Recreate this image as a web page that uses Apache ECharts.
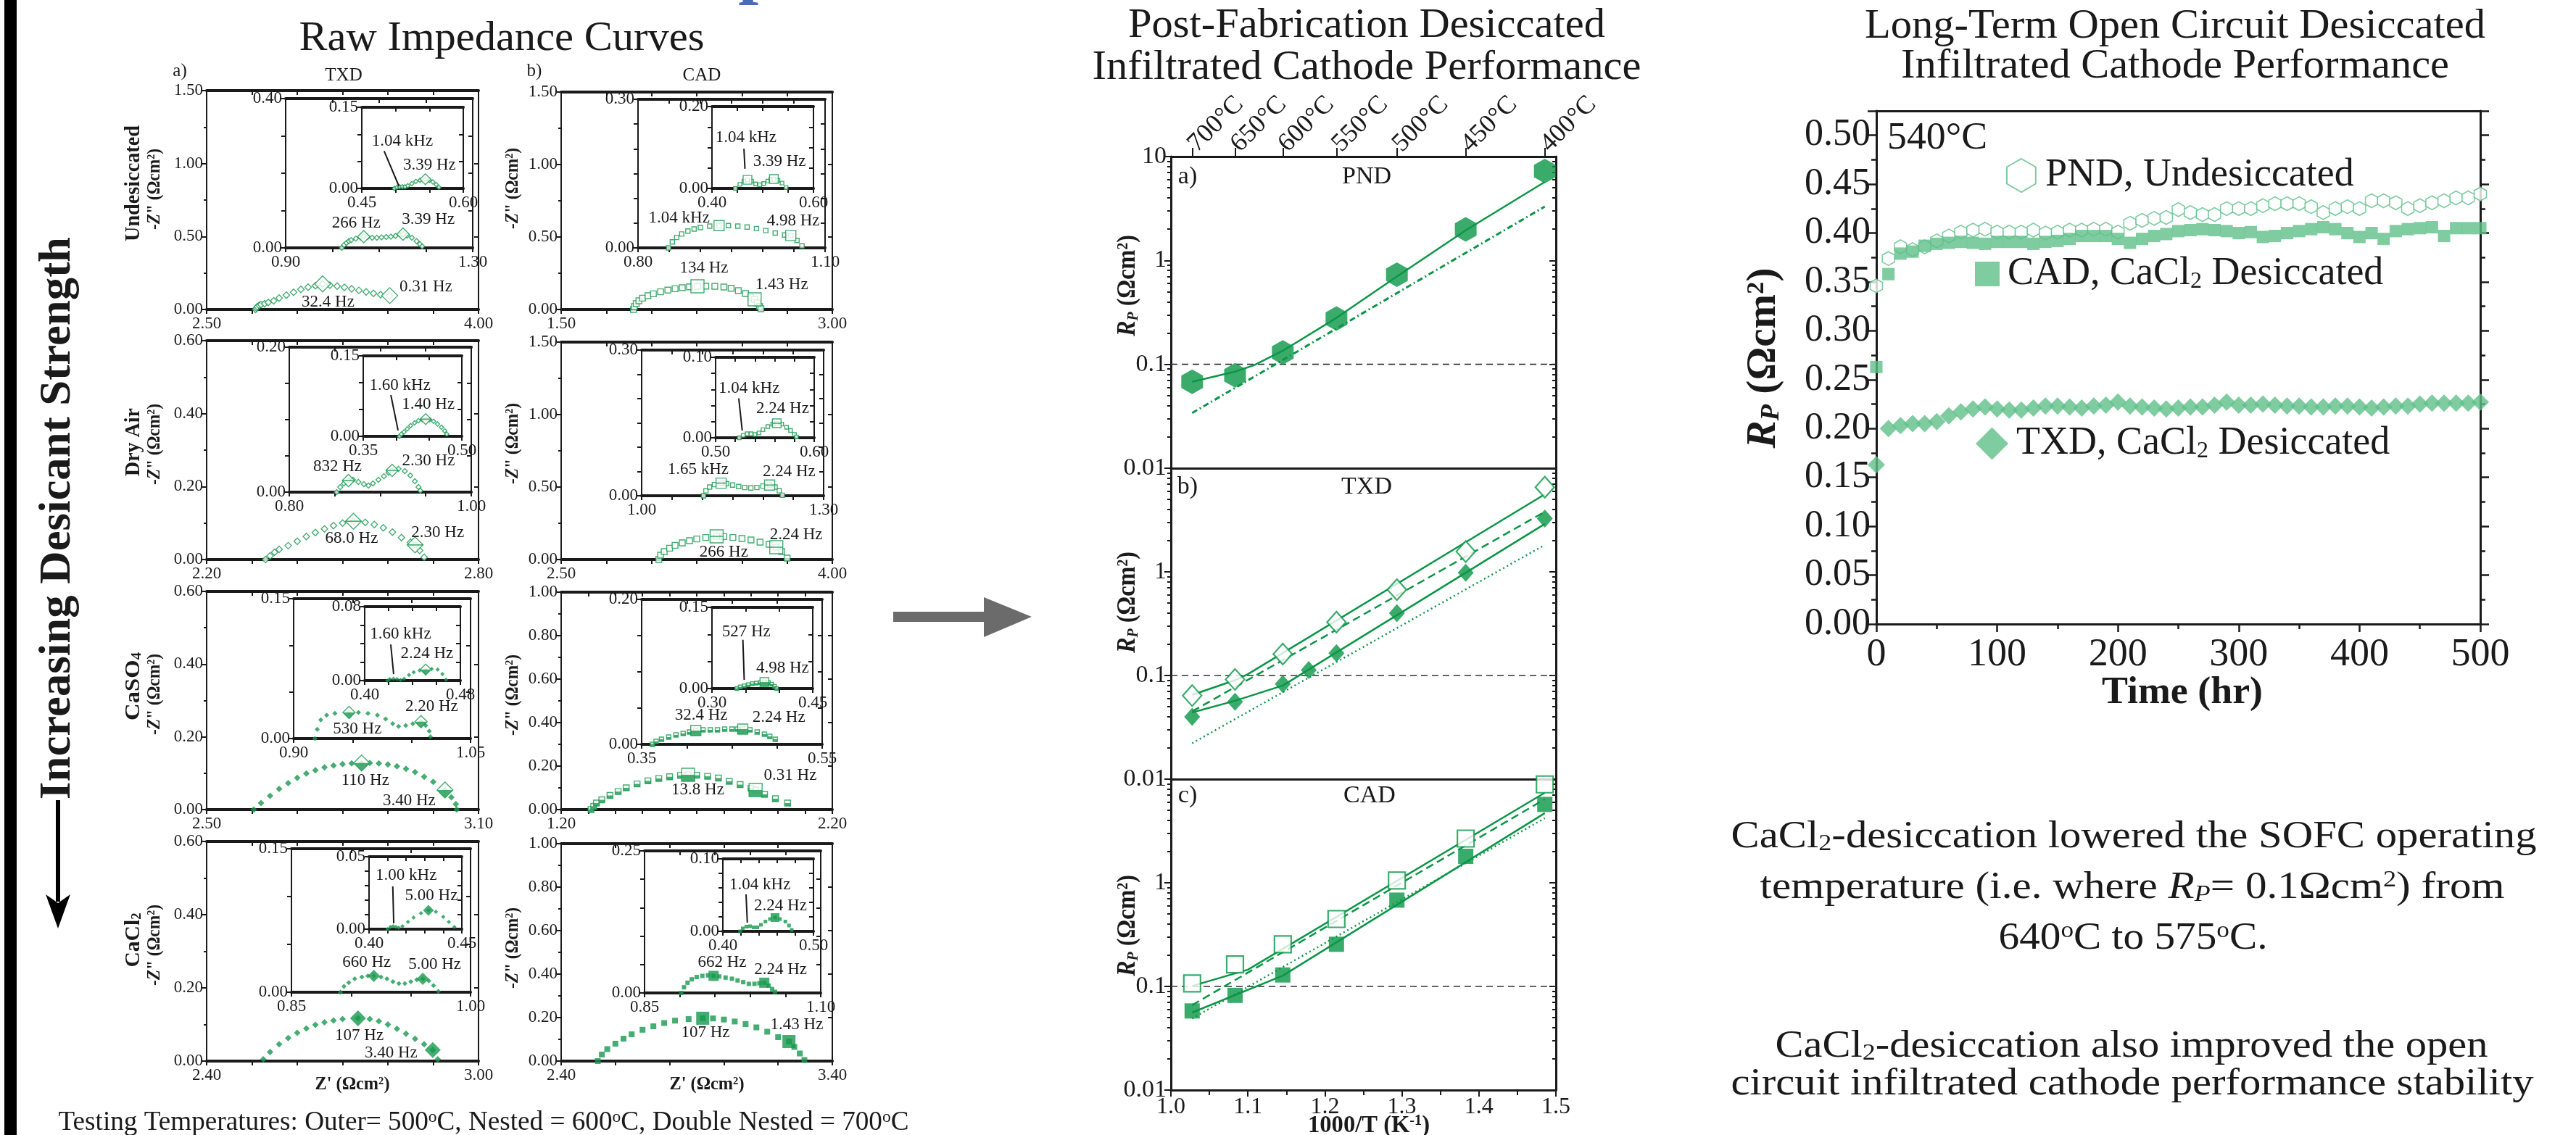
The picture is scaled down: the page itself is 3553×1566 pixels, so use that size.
<!DOCTYPE html>
<html>
<head>
<meta charset="utf-8">
<script src="https://cdn.jsdelivr.net/npm/echarts@6/dist/echarts.min.js"></script>
<style>html,body{margin:0;padding:0;background:#fff;}#chart{width:3553px;height:1566px;}</style>
</head>
<body>
<div id="chart"></div>
<script>
var FONT = "'Liberation Serif', 'Times New Roman', serif";
var INK = '#1a1a1a';
var G = '#17994d';   // impedance green
var GM = '#0a9646';  // arrhenius green
var GL = '#5ebf88';  // long-term green

// ================= Raw impedance curves: [Z', -Z''] (ohm cm2) =================
// TXD, undesiccated
var tuO = [[2.77,0.0],[2.775,0.01],[2.78,0.02],[2.79,0.028],[2.80,0.034],[2.82,0.04],[2.84,0.048],[2.87,0.06],[2.90,0.078],[2.94,0.098],[2.98,0.118],[3.02,0.138],[3.06,0.153],[3.10,0.163],[3.14,0.175],[3.18,0.166],[3.22,0.16],[3.26,0.151],[3.30,0.141],[3.34,0.131],[3.38,0.121],[3.42,0.111],[3.46,0.102],[3.51,0.095]];
var tuOMk = [[3.14,0.175],[3.51,0.095]];
var tuOLb = [[3.17,0.05,'32.4 Hz'],[3.71,0.155,'0.31 Hz']];
var tuN = [[1.02,0.0],[1.025,0.008],[1.03,0.013],[1.035,0.018],[1.04,0.021],[1.05,0.025],[1.06,0.028],[1.067,0.03],[1.075,0.029],[1.085,0.027],[1.095,0.027],[1.105,0.028],[1.115,0.029],[1.125,0.03],[1.135,0.032],[1.145,0.035],[1.151,0.037],[1.16,0.033],[1.17,0.027],[1.18,0.018],[1.187,0.01],[1.192,0.004]];
var tuNMk = [[1.067,0.03],[1.151,0.037]];
var tuNLb = [[1.051,0.066,'266 Hz'],[1.205,0.076,'3.39 Hz']];
var tuD = [[0.498,0.0],[0.502,0.002],[0.506,0.003],[0.51,0.003],[0.514,0.003],[0.518,0.005],[0.524,0.009],[0.53,0.013],[0.536,0.015],[0.544,0.017],[0.55,0.015],[0.555,0.012],[0.56,0.007],[0.564,0.002]];
var tuDMk = [[0.544,0.017]];
var tuDLb = [[0.51,0.087,'1.04 kHz'],[0.55,0.043,'3.39 Hz']];
var tuDLd = [[0.483,0.069],[0.505,0.004]];

// CAD, undesiccated
var cuO = [[1.90,0.0],[1.905,0.02],[1.915,0.04],[1.93,0.06],[1.95,0.078],[1.98,0.095],[2.01,0.108],[2.05,0.122],[2.09,0.134],[2.13,0.143],[2.17,0.15],[2.21,0.156],[2.254,0.16],[2.30,0.161],[2.35,0.16],[2.40,0.155],[2.44,0.146],[2.48,0.13],[2.52,0.11],[2.55,0.085],[2.57,0.07],[2.585,0.045],[2.597,0.02],[2.605,0.005]];
var cuOMk = [[2.254,0.16],[2.57,0.07]];
var cuOLb = [[2.29,0.285,'134 Hz'],[2.72,0.17,'1.43 Hz']];
var cuN = [[0.849,0.0],[0.855,0.012],[0.862,0.021],[0.87,0.028],[0.88,0.034],[0.89,0.038],[0.90,0.041],[0.915,0.044],[0.93,0.045],[0.945,0.045],[0.96,0.044],[0.975,0.042],[0.99,0.039],[1.005,0.035],[1.02,0.03],[1.035,0.026],[1.045,0.025],[1.055,0.015],[1.063,0.004]];
var cuNMk = [[0.93,0.045],[1.045,0.025]];
var cuNLb = [[0.866,0.06,'1.04 kHz'],[1.049,0.054,'4.98 Hz']];
var cuD = [[0.446,0.0],[0.455,0.01],[0.463,0.018],[0.47,0.021],[0.478,0.018],[0.486,0.011],[0.494,0.009],[0.502,0.012],[0.51,0.018],[0.516,0.022],[0.522,0.023],[0.53,0.02],[0.538,0.013],[0.546,0.002]];
var cuDMk = [[0.47,0.021],[0.522,0.023]];
var cuDLb = [[0.467,0.124,'1.04 kHz'],[0.533,0.065,'3.39 Hz']];
var cuDLd = [[0.463,0.097],[0.465,0.048]];

// TXD, dry air
var tdO = [[2.33,0.0],[2.34,0.01],[2.35,0.02],[2.36,0.028],[2.38,0.038],[2.40,0.05],[2.42,0.063],[2.44,0.074],[2.46,0.084],[2.48,0.093],[2.50,0.1],[2.524,0.105],[2.55,0.102],[2.57,0.096],[2.59,0.087],[2.61,0.075],[2.63,0.06],[2.65,0.047],[2.66,0.04],[2.67,0.025],[2.68,0.006]];
var tdOMk = [[2.524,0.105],[2.66,0.04]];
var tdOLb = [[2.52,0.058,'68.0 Hz'],[2.71,0.074,'2.30 Hz']];
var tdN = [[0.852,0.0],[0.856,0.007],[0.86,0.012],[0.865,0.016],[0.87,0.017],[0.876,0.014],[0.882,0.011],[0.887,0.009],[0.892,0.012],[0.898,0.017],[0.904,0.022],[0.909,0.027],[0.913,0.03],[0.92,0.032],[0.927,0.029],[0.933,0.023],[0.938,0.015],[0.942,0.007],[0.944,0.002]];
var tdNMk = [[0.865,0.016],[0.913,0.03]];
var tdNLb = [[0.853,0.035,'832 Hz'],[0.953,0.043,'2.30 Hz']];
var tdD = [[0.405,0.0],[0.408,0.004],[0.412,0.008],[0.417,0.014],[0.422,0.02],[0.428,0.025],[0.434,0.029],[0.44,0.031],[0.445,0.032],[0.451,0.031],[0.457,0.028],[0.463,0.023],[0.469,0.017],[0.474,0.01],[0.477,0.004]];
var tdDMk = [[0.445,0.032]];
var tdDLb = [[0.406,0.095,'1.60 kHz'],[0.449,0.06,'1.40 Hz']];
var tdDLd = [[0.392,0.077],[0.403,0.011]];

// CAD, dry air
var cdO = [[3.04,0.0],[3.05,0.03],[3.07,0.055],[3.10,0.078],[3.13,0.098],[3.17,0.115],[3.21,0.13],[3.25,0.142],[3.30,0.152],[3.36,0.16],[3.40,0.158],[3.45,0.152],[3.50,0.145],[3.55,0.135],[3.60,0.12],[3.65,0.105],[3.69,0.085],[3.72,0.055],[3.75,0.01]];
var cdOMk = [[3.36,0.16],[3.69,0.085]];
var cdOLb = [[3.40,0.05,'266 Hz'],[3.80,0.17,'2.24 Hz']];
var cdN = [[1.102,0.0],[1.106,0.01],[1.112,0.018],[1.12,0.023],[1.131,0.026],[1.14,0.025],[1.15,0.022],[1.16,0.019],[1.17,0.017],[1.18,0.016],[1.19,0.017],[1.20,0.02],[1.211,0.022],[1.22,0.018],[1.227,0.01],[1.232,0.001]];
var cdNMk = [[1.131,0.026],[1.211,0.022]];
var cdNLb = [[1.093,0.054,'1.65 kHz'],[1.243,0.049,'2.24 Hz']];
var cdD = [[0.524,0.0],[0.528,0.003],[0.532,0.005],[0.536,0.005],[0.54,0.004],[0.544,0.006],[0.548,0.01],[0.553,0.014],[0.558,0.017],[0.562,0.018],[0.567,0.017],[0.572,0.013],[0.576,0.009],[0.58,0.004],[0.582,0.001]];
var cdDMk = [[0.562,0.018]];
var cdDLb = [[0.534,0.061,'1.04 kHz'],[0.568,0.036,'2.24 Hz']];
var cdDLd = [[0.5235,0.049],[0.527,0.009]];

// TXD, CaSO4
var tsO = [[2.604,0.0],[2.62,0.018],[2.64,0.038],[2.66,0.057],[2.68,0.073],[2.70,0.087],[2.72,0.099],[2.74,0.108],[2.76,0.116],[2.78,0.121],[2.80,0.125],[2.82,0.127],[2.842,0.128],[2.86,0.128],[2.88,0.127],[2.90,0.124],[2.92,0.119],[2.94,0.112],[2.96,0.103],[2.98,0.09],[3.00,0.076],[3.026,0.054],[3.04,0.034],[3.05,0.015],[3.052,0.0]];
var tsOMk = [[2.842,0.128],[3.026,0.054]];
var tsOLb = [[2.85,0.08,'110 Hz'],[2.947,0.024,'3.40 Hz']];
var tsN = [[0.918,0.0],[0.92,0.01],[0.923,0.02],[0.928,0.025],[0.935,0.027],[0.947,0.028],[0.955,0.028],[0.963,0.027],[0.971,0.025],[0.978,0.021],[0.984,0.016],[0.989,0.013],[0.995,0.014],[1.001,0.016],[1.008,0.018],[1.012,0.014],[1.015,0.008],[1.016,0.002]];
var tsNMk = [[0.947,0.028],[1.008,0.018]];
var tsNLb = [[0.954,0.01,'530 Hz'],[1.017,0.034,'2.20 Hz']];
var tsD = [[0.419,0.0],[0.421,0.0015],[0.424,0.002],[0.427,0.0015],[0.43,0.0005],[0.433,0.002],[0.437,0.006],[0.441,0.009],[0.446,0.011],[0.451,0.012],[0.456,0.0125],[0.461,0.012],[0.465,0.007],[0.468,0.001]];
var tsDMk = [[0.451,0.012]];
var tsDLb = [[0.43,0.05,'1.60 kHz'],[0.452,0.029,'2.24 Hz']];
var tsDLd = [[0.4218,0.039],[0.4242,0.007]];

// CAD, CaSO4
var csO = [[1.31,0.0],[1.32,0.015],[1.33,0.03],[1.35,0.045],[1.38,0.065],[1.41,0.083],[1.44,0.1],[1.48,0.118],[1.52,0.132],[1.56,0.143],[1.60,0.151],[1.64,0.157],[1.668,0.16],[1.70,0.158],[1.74,0.153],[1.78,0.145],[1.82,0.13],[1.86,0.115],[1.90,0.098],[1.917,0.09],[1.95,0.07],[1.99,0.05],[2.035,0.03]];
var csOMk = [[1.668,0.16],[1.917,0.09]];
var csOLb = [[1.704,0.09,'13.8 Hz'],[2.045,0.157,'0.31 Hz']];
var csN = [[0.362,0.0],[0.366,0.004],[0.372,0.007],[0.38,0.01],[0.388,0.013],[0.396,0.015],[0.403,0.017],[0.41,0.019],[0.418,0.02],[0.426,0.02],[0.434,0.02],[0.442,0.021],[0.45,0.021],[0.456,0.021],[0.462,0.021],[0.47,0.02],[0.478,0.017],[0.486,0.014],[0.492,0.011],[0.498,0.007]];
var csNMk = [[0.41,0.019],[0.462,0.021]];
var csNLb = [[0.416,0.04,'32.4 Hz'],[0.502,0.037,'2.24 Hz']];
var csD = [[0.337,0.0],[0.342,0.003],[0.348,0.005],[0.354,0.007],[0.36,0.009],[0.366,0.01],[0.372,0.011],[0.378,0.012],[0.384,0.011],[0.389,0.008],[0.393,0.004],[0.396,0.0]];
var csDMk = [[0.378,0.012]];
var csDLb = [[0.351,0.104,'527 Hz'],[0.405,0.038,'4.98 Hz']];
var csDLd = [[0.346,0.09],[0.348,0.016]];

// TXD, CaCl2
var tcO = [[2.525,0.005],[2.54,0.025],[2.56,0.046],[2.58,0.063],[2.60,0.077],[2.62,0.089],[2.64,0.099],[2.66,0.106],[2.68,0.111],[2.70,0.115],[2.734,0.117],[2.76,0.115],[2.78,0.109],[2.80,0.1],[2.82,0.088],[2.84,0.075],[2.86,0.061],[2.88,0.046],[2.899,0.03],[2.91,0.005]];
var tcOMk = [[2.734,0.117],[2.899,0.03]];
var tcOLb = [[2.737,0.069,'107 Hz'],[2.807,0.022,'3.40 Hz']];
var tcN = [[0.891,0.0],[0.894,0.006],[0.898,0.01],[0.903,0.014],[0.909,0.016],[0.914,0.017],[0.919,0.017],[0.925,0.016],[0.93,0.014],[0.935,0.011],[0.94,0.009],[0.945,0.009],[0.95,0.011],[0.955,0.013],[0.96,0.014],[0.965,0.012],[0.969,0.007],[0.973,0.001]];
var tcNMk = [[0.919,0.017],[0.96,0.014]];
var tcNLb = [[0.913,0.031,'660 Hz'],[0.97,0.029,'5.00 Hz']];
var tcD = [[0.41,0.0],[0.4115,0.0015],[0.413,0.002],[0.4145,0.0015],[0.416,0.001],[0.418,0.002],[0.421,0.005],[0.424,0.008],[0.428,0.011],[0.432,0.013],[0.436,0.012],[0.44,0.0085],[0.443,0.005],[0.446,0.0015]];
var tcDMk = [[0.432,0.013]];
var tcDLb = [[0.42,0.037,'1.00 kHz'],[0.4336,0.0228,'5.00 Hz']];
var tcDLd = [[0.4128,0.0295],[0.4133,0.004]];

// CAD, CaCl2
var ccO = [[2.535,0.0],[2.55,0.03],[2.57,0.055],[2.60,0.08],[2.63,0.103],[2.66,0.123],[2.70,0.144],[2.74,0.16],[2.78,0.175],[2.82,0.186],[2.87,0.193],[2.922,0.197],[2.96,0.196],[3.00,0.191],[3.04,0.182],[3.08,0.17],[3.12,0.155],[3.16,0.135],[3.20,0.11],[3.24,0.09],[3.26,0.065],[3.28,0.035],[3.297,0.005]];
var ccOMk = [[2.922,0.197],[3.24,0.09]];
var ccOLb = [[2.932,0.131,'107 Hz'],[3.269,0.168,'1.43 Hz']];
var ccN = [[0.902,0.0],[0.906,0.01],[0.911,0.018],[0.917,0.024],[0.924,0.028],[0.932,0.03],[0.94,0.031],[0.948,0.03],[0.956,0.029],[0.965,0.027],[0.974,0.025],[0.982,0.022],[0.99,0.019],[0.998,0.016],[1.006,0.016],[1.013,0.017],[1.02,0.018],[1.026,0.013],[1.031,0.007],[1.035,0.002]];
var ccNMk = [[0.948,0.03],[1.02,0.018]];
var ccNLb = [[0.96,0.054,'662 Hz'],[1.043,0.041,'2.24 Hz']];
var ccD = [[0.419,0.0],[0.422,0.004],[0.426,0.0065],[0.43,0.007],[0.434,0.0055],[0.438,0.0055],[0.442,0.009],[0.447,0.0135],[0.452,0.017],[0.4576,0.019],[0.463,0.017],[0.469,0.0135],[0.473,0.008],[0.476,0.002]];
var ccDMk = [[0.4576,0.019]];
var ccDLb = [[0.441,0.064,'1.04 kHz'],[0.4636,0.0354,'2.24 Hz']];
var ccDLd = [[0.4256,0.051],[0.427,0.012]];

// axis ranges: [xmin, xmax, xstep, ymin, ymax, ystep]
var rTuO = [2.5,4.0,0.25,0,1.5,0.5], rTuN = [0.9,1.3,0.1,0,0.4,0.1], rTuD = [0.45,0.6,0.05,0,0.15,0.05];
var rCuO = [1.5,3.0,0.25,0,1.5,0.5], rCuN = [0.8,1.1,0.05,0,0.3,0.05], rCuD = [0.4,0.6,0.05,0,0.2,0.05];
var rTdO = [2.2,2.8,0.1,0,0.6,0.2], rTdN = [0.8,1.0,0.05,0,0.2,0.05], rTdD = [0.35,0.5,0.05,0,0.15,0.05];
var rCdO = [2.5,4.0,0.25,0,1.5,0.5], rCdN = [1.0,1.3,0.05,0,0.3,0.05], rCdD = [0.5,0.6,0.02,0,0.1,0.02];
var rTsO = [2.5,3.1,0.1,0,0.6,0.2], rTsN = [0.9,1.05,0.05,0,0.15,0.05], rTsD = [0.4,0.48,0.02,0,0.08,0.02];
var rCsO = [1.2,2.2,0.1,0,1.0,0.2], rCsN = [0.35,0.55,0.05,0,0.2,0.05], rCsD = [0.3,0.45,0.05,0,0.15,0.05];
var rTcO = [2.4,3.0,0.1,0,0.6,0.2], rTcN = [0.85,1.0,0.05,0,0.15,0.05], rTcD = [0.4,0.45,0.01,0,0.05,0.01];
var rCcO = [2.4,3.4,0.2,0,1.0,0.2], rCcN = [0.85,1.1,0.05,0,0.25,0.05], rCcD = [0.4,0.5,0.02,0,0.1,0.02];

// ================= Arrhenius plots =================
var invT = [1.0276, 1.0833, 1.1453, 1.2150, 1.2935, 1.3829, 1.4856];
var tempLabels = ['700°C','650°C','600°C','550°C','500°C','450°C','400°C'];
var pndRp = [0.068, 0.0785, 0.13, 0.276, 0.728, 1.99, 7.24];
var pndFit = [[1.0276,0.068],[1.0833,0.085],[1.108,0.098],[1.1453,0.135],[1.215,0.28],[1.2935,0.70],[1.3829,1.95],[1.4856,5.7]];
var pndTrend = [[1.0276,0.034],[1.4856,3.3]];
var txdOpenRp = [0.064, 0.0916, 0.161, 0.327, 0.673, 1.57, 6.56];
var txdFillT = [1.0276, 1.0833, 1.1453, 1.179, 1.215, 1.2935, 1.3829, 1.4856];
var txdFillRp = [0.040, 0.0557, 0.0826, 0.113, 0.164, 0.40, 0.98, 3.27];
var txdOpenFit = [[1.0276,0.065],[1.0833,0.09],[1.10,0.103],[1.4856,5.6]];
var txdFillFit = [[1.0276,0.044],[1.0833,0.057],[1.1453,0.08],[1.4856,2.9]];
var txdDash = [[1.0276,0.045],[1.4856,3.8]];
var txdDot = [[1.0276,0.0222],[1.4856,1.82]];
var cadOpenRp = [0.107, 0.163, 0.255, 0.447, 1.05, 2.67, 8.9];
var cadFillRp = [0.058, 0.082, 0.129, 0.255, 0.68, 1.80, 5.7];
var cadOpenFit = [[1.0276,0.101],[1.10,0.145],[1.4856,7.4]];
var cadFillFit = [[1.0276,0.056],[1.1453,0.127],[1.4856,4.7]];
var cadDash = [[1.0276,0.066],[1.4856,6.4]];
var cadDot = [[1.0276,0.049],[1.4856,4.2]];
var refRp = [[1.0,0.1],[1.5,0.1]];
var logMinor = [0.02,0.03,0.04,0.05,0.06,0.07,0.08,0.09,0.2,0.3,0.4,0.5,0.6,0.7,0.8,0.9,2,3,4,5,6,7,8,9];

// ================= Long-term open circuit (540 C) =================
var timeHr = [0,10,20,30,40,50,60,70,80,90,100,110,120,130,140,150,160,170,180,190,200,210,220,230,240,250,260,270,280,290,300,310,320,330,340,350,360,370,380,390,400,410,420,430,440,450,460,470,480,490,500];
var pndLong = [0.346,0.374,0.386,0.383,0.386,0.392,0.397,0.401,0.403,0.404,0.401,0.401,0.401,0.403,0.400,0.401,0.403,0.403,0.404,0.404,0.401,0.410,0.413,0.415,0.416,0.424,0.421,0.419,0.419,0.425,0.425,0.425,0.428,0.430,0.430,0.430,0.427,0.421,0.425,0.427,0.425,0.433,0.433,0.431,0.425,0.428,0.431,0.433,0.436,0.436,0.440];
var cadLong = [0.263,0.358,0.379,0.381,0.387,0.389,0.390,0.391,0.390,0.389,0.391,0.391,0.391,0.389,0.391,0.392,0.394,0.397,0.397,0.397,0.394,0.390,0.394,0.397,0.399,0.402,0.403,0.404,0.403,0.402,0.400,0.401,0.396,0.397,0.400,0.402,0.404,0.406,0.404,0.400,0.396,0.400,0.394,0.402,0.404,0.405,0.406,0.397,0.405,0.405,0.405];
var txdLong = [0.163,0.200,0.203,0.205,0.205,0.207,0.213,0.217,0.220,0.222,0.220,0.219,0.219,0.221,0.223,0.223,0.222,0.221,0.223,0.224,0.227,0.223,0.222,0.221,0.220,0.221,0.222,0.222,0.224,0.227,0.224,0.224,0.225,0.224,0.223,0.223,0.222,0.222,0.223,0.223,0.222,0.221,0.222,0.223,0.223,0.225,0.226,0.226,0.226,0.226,0.227];

// ================= builders =================
var grids = [], xAxes = [], yAxes = [], series = [], graphics = [];
var HEX = 'path://M5,0L9.33,2.5L9.33,7.5L5,10L0.67,7.5L0.67,2.5Z';
function f2(v) { return Number(v).toFixed(2); }

var mctx = document.createElement('canvas').getContext('2d');
function tw(s, st) {
  mctx.font = (st.fontStyle || 'normal') + ' ' + (st.fontWeight || 'normal') + ' ' + st.fontSize + 'px ' + FONT;
  return mctx.measureText(s).width;
}
function RS(size, o) {
  o = o || {};
  var r = {fontSize: size, fontFamily: FONT, fontWeight: o.b ? 'bold' : 'normal', fontStyle: o.i ? 'italic' : 'normal', fill: o.fill || INK};
  if (o.va) r.verticalAlign = o.va;
  return r;
}
// tokens: [[text, styleName], ...]
function rtext(tokens, rich, x, y, w, rot) {
  var str = '', width = 0, maxS = 10;
  tokens.forEach(function (t) {
    var st = rich[t[1]];
    str += '{' + t[1] + '|' + t[0] + '}';
    width += tw(t[0], st);
    maxS = Math.max(maxS, st.fontSize);
  });
  var sc = w ? w / width : 1;
  graphics.push({type: 'text', x: x, y: y, rotation: rot || 0, scaleX: sc, silent: true, z: 20,
    style: {text: str, rich: rich, fontSize: maxS, fontFamily: FONT, fill: INK,
      align: 'center', verticalAlign: 'middle', textAlign: 'center', textVerticalAlign: 'middle'}});
}
function ptext(s, x, y, size, w, o) {
  o = o || {};
  rtext([[s, 'n']], {n: RS(size, o)}, x, y, w, o.rot);
}

function gridAt(r) {
  return {left: r[0], top: r[1], width: r[2] - r[0], height: r[3] - r[1], containLabel: false, outerBoundsMode: 'none', show: false};
}

// ---------- impedance boxes ----------
function impBox(rect, rg, lv) {
  var gi = grids.length, xi = xAxes.length, yi = yAxes.length;
  grids.push(gridAt(rect));
  var thin = {color: INK, width: 2}, thick = {color: INK, width: 4};
  var lab = {fontFamily: FONT, fontSize: 23, color: INK, formatter: f2};
  xAxes.push({gridIndex: gi, type: 'value', position: 'bottom', min: rg[0], max: rg[1], interval: rg[2],
    axisLine: {onZero: false, lineStyle: thick}, axisTick: {length: 6, lineStyle: thin},
    axisLabel: Object.assign({customValues: [rg[0], rg[1]], margin: 8}, lab), splitLine: {show: false}});
  xAxes.push({gridIndex: gi, type: 'value', position: 'top', min: rg[0], max: rg[1], interval: rg[2],
    axisLine: {onZero: false, lineStyle: thick}, axisTick: {inside: true, length: 6, lineStyle: thin},
    axisLabel: {show: false}, splitLine: {show: false}});
  var yl = Object.assign({margin: 5}, lab);
  if (lv > 0) yl.customValues = [rg[3], rg[4]];
  yAxes.push({gridIndex: gi, type: 'value', position: 'left', min: rg[3], max: rg[4], interval: rg[5],
    axisLine: {onZero: false, lineStyle: thin}, axisTick: {length: 6, lineStyle: thin},
    minorTick: {show: lv === 0, splitNumber: 2, length: 4, lineStyle: thin},
    axisLabel: yl, splitLine: {show: false}, minorSplitLine: {show: false}});
  yAxes.push({gridIndex: gi, type: 'value', position: 'right', min: rg[3], max: rg[4], interval: rg[5],
    axisLine: {onZero: false, lineStyle: thin}, axisTick: {inside: true, length: 6, lineStyle: thin},
    axisLabel: {show: false}, splitLine: {show: false}});
  return {x: xi, y: yi};
}

function scat(ax, data, symbol, size, item, z, off) {
  series.push({type: 'scatter', xAxisIndex: ax.x, yAxisIndex: ax.y, data: data, symbol: symbol,
    symbolSize: size, symbolOffset: off || [0, 0], itemStyle: item, z: z || 3, silent: true, animation: false});
}

function impPlot(p) {
  var ax = impBox(p.r, p.rg, p.lv);
  var small = [9, 7, 6][p.lv], big = [22, 17, 15][p.lv];
  var isD = p.st.charAt(0) === 'd', kind = p.st.slice(1);
  var sym = isD ? 'diamond' : 'rect';
  var s = isD ? small : small - 1, b = isD ? big : Math.round(big * 0.8);
  var openS = {color: '#fff', borderColor: G, borderWidth: 1.4}, fillS = {color: G};
  if (kind === 'Fill') {
    scat(ax, p.d, sym, s, fillS, 3);
    scat(ax, p.mk, sym, b, fillS, 4);
  } else if (kind === 'Half') {
    if (isD) {
      scat(ax, p.d, sym, s, fillS, 3);
    } else {
      scat(ax, p.d, sym, s, openS, 3);
      scat(ax, p.d, 'rect', [s, s / 2], fillS, 3, [0, s / 4]);
    }
    scat(ax, p.mk, sym, b, openS, 4);
    scat(ax, p.mk, isD ? 'path://M0,0L10,0L5,5Z' : 'rect', [b, b / 2], fillS, 5, [0, b / 4]);
  } else {
    scat(ax, p.d, sym, s, openS, 3);
    scat(ax, p.mk, sym, b, openS, 4);
    if (kind === 'Bar') scat(ax, p.mk, 'rect', [b, 1.6], fillS, 5);
  }
  series.push({type: 'scatter', xAxisIndex: ax.x, yAxisIndex: ax.y, symbol: 'circle', symbolSize: 2,
    itemStyle: {color: 'rgba(255,255,255,0)'}, silent: true, animation: false, z: 6,
    data: p.lb.map(function (l) { return {value: [l[0], l[1]], name: l[2]}; }),
    label: {show: true, position: 'inside', formatter: '{b}', fontFamily: FONT, fontSize: 23, color: INK, opacity: 1}});
  if (p.ld) {
    series.push({type: 'line', xAxisIndex: ax.x, yAxisIndex: ax.y, data: p.ld, symbol: 'none', silent: true,
      animation: false, z: 6, lineStyle: {color: INK, width: 2}});
  }
}

var impLayout = [
  {r: [285,125,660,427], rg: rTuO, d: tuO, mk: tuOMk, lb: tuOLb, st: 'dOpen', lv: 0},
  {r: [394,136,652,342], rg: rTuN, d: tuN, mk: tuNMk, lb: tuNLb, st: 'dOpen', lv: 1},
  {r: [499,148,639,260], rg: rTuD, d: tuD, mk: tuDMk, lb: tuDLb, ld: tuDLd, st: 'dOpen', lv: 2},
  {r: [774,127,1148,427], rg: rCuO, d: cuO, mk: cuOMk, lb: cuOLb, st: 'sOpen', lv: 0},
  {r: [880,137,1138,342], rg: rCuN, d: cuN, mk: cuNMk, lb: cuNLb, st: 'sOpen', lv: 1},
  {r: [982,147,1122,260], rg: rCuD, d: cuD, mk: cuDMk, lb: cuDLb, ld: cuDLd, st: 'sOpen', lv: 2},

  {r: [285,470,660,772], rg: rTdO, d: tdO, mk: tdOMk, lb: tdOLb, st: 'dBar', lv: 0},
  {r: [399,479,650,679], rg: rTdN, d: tdN, mk: tdNMk, lb: tdNLb, st: 'dBar', lv: 1},
  {r: [501,491,637,602], rg: rTdD, d: tdD, mk: tdDMk, lb: tdDLb, ld: tdDLd, st: 'dBar', lv: 2},
  {r: [774,472,1148,772], rg: rCdO, d: cdO, mk: cdOMk, lb: cdOLb, st: 'sBar', lv: 0},
  {r: [885,483,1136,684], rg: rCdN, d: cdN, mk: cdNMk, lb: cdNLb, st: 'sBar', lv: 1},
  {r: [987,493,1123,604], rg: rCdD, d: cdD, mk: cdDMk, lb: cdDLb, ld: cdDLd, st: 'sBar', lv: 2},

  {r: [285,816,660,1117], rg: rTsO, d: tsO, mk: tsOMk, lb: tsOLb, st: 'dHalf', lv: 0},
  {r: [405,826,649,1019], rg: rTsN, d: tsN, mk: tsNMk, lb: tsNLb, st: 'dHalf', lv: 1},
  {r: [503,837,635,939], rg: rTsD, d: tsD, mk: tsDMk, lb: tsDLb, ld: tsDLd, st: 'dHalf', lv: 2},
  {r: [774,817,1148,1117], rg: rCsO, d: csO, mk: csOMk, lb: csOLb, st: 'sHalf', lv: 0},
  {r: [885,827,1134,1027], rg: rCsN, d: csN, mk: csNMk, lb: csNLb, st: 'sHalf', lv: 1},
  {r: [982,838,1121,950], rg: rCsD, d: csD, mk: csDMk, lb: csDLb, ld: csDLd, st: 'sHalf', lv: 2},

  {r: [285,1161,660,1464], rg: rTcO, d: tcO, mk: tcOMk, lb: tcOLb, st: 'dFill', lv: 0},
  {r: [402,1171,649,1369], rg: rTcN, d: tcN, mk: tcNMk, lb: tcNLb, st: 'dFill', lv: 1},
  {r: [509,1182,637,1282], rg: rTcD, d: tcD, mk: tcDMk, lb: tcDLb, ld: tcDLd, st: 'dFill', lv: 2},
  {r: [774,1164,1148,1464], rg: rCcO, d: ccO, mk: ccOMk, lb: ccOLb, st: 'sFill', lv: 0},
  {r: [889,1174,1132,1370], rg: rCcN, d: ccN, mk: ccNMk, lb: ccNLb, st: 'sFill', lv: 1},
  {r: [997,1185,1122,1285], rg: rCcD, d: ccD, mk: ccDMk, lb: ccDLb, ld: ccDLd, st: 'sFill', lv: 2}
];
impLayout.forEach(impPlot);

// ---------- Arrhenius boxes ----------
function tempFor(v) {
  var bi = 0;
  for (var i = 0; i < invT.length; i++) if (Math.abs(invT[i] - v) < Math.abs(invT[bi] - v)) bi = i;
  return tempLabels[bi];
}
function arrBox(rect, top, xLab, maxLab) {
  var gi = grids.length, xi = xAxes.length, yi = yAxes.length;
  grids.push(gridAt(rect));
  var ln = {color: INK, width: 3}, tk = {color: INK, width: 2};
  xAxes.push({gridIndex: gi, type: 'value', position: 'bottom', min: 1.0, max: 1.5, interval: 0.1,
    axisLine: {onZero: false, lineStyle: ln},
    axisTick: {show: xLab, length: 9, lineStyle: tk},
    minorTick: {show: xLab, splitNumber: 2, length: 7, lineStyle: tk},
    axisLabel: {show: xLab, fontFamily: FONT, fontSize: 32, color: INK, margin: 8, formatter: function (v) { return v.toFixed(1); }},
    splitLine: {show: false}, minorSplitLine: {show: false}});
  xAxes.push({gridIndex: gi, type: 'value', position: 'top', min: 1.0, max: 1.5,
    axisLine: {onZero: false, lineStyle: ln},
    axisTick: {show: top, customValues: invT, length: 12, lineStyle: tk},
    axisLabel: {show: top, customValues: invT, rotate: -45, align: 'left', verticalAlign: 'middle',
      fontFamily: FONT, fontSize: 36, color: INK, margin: 12, formatter: tempFor},
    splitLine: {show: false}});
  var logLab = function (v) {
    var e = Math.round(Math.log(v) / Math.LN10);
    if (Math.abs(Math.log(v) / Math.LN10 - e) > 1e-6 || v > maxLab * 1.0001) return '';
    return e >= 0 ? String(Math.round(v)) : v.toFixed(-e);
  };
  yAxes.push({gridIndex: gi, type: 'log', logBase: 10, min: 0.01, max: 10, position: 'left',
    axisLine: {onZero: false, lineStyle: ln}, axisTick: {length: 9, lineStyle: tk},
    axisLabel: {fontFamily: FONT, fontSize: 34, color: INK, margin: 6, formatter: logLab},
    splitLine: {show: false}});
  yAxes.push({gridIndex: gi, type: 'log', logBase: 10, min: 0.01, max: 10, position: 'right',
    axisLine: {onZero: false, lineStyle: ln}, axisTick: {inside: true, length: 9, lineStyle: tk},
    axisLabel: {show: false}, splitLine: {show: false}});
  // minor decade ticks, on the decade-exponent scale
  var minorPos = logMinor.map(function (v) { return Math.log(v) / Math.LN10; });
  ['left', 'right'].forEach(function (pos) {
    yAxes.push({gridIndex: gi, type: 'value', min: -2, max: 1, position: pos,
      axisLine: {show: false}, axisTick: {customValues: minorPos, inside: pos === 'right', length: 5, lineStyle: tk},
      axisLabel: {show: false}, splitLine: {show: false}});
  });
  return {x: xi, y: yi};
}
function mline(ax, data, kind) {
  var t = {solid: 'solid', dash: [11, 6], dot: [2, 4], dashdot: [8, 4, 2, 4], ref: [9, 6]}[kind];
  series.push({type: 'line', xAxisIndex: ax.x, yAxisIndex: ax.y, data: data, symbol: 'none', silent: true,
    animation: false, z: kind === 'ref' ? 1 : 2,
    lineStyle: {color: kind === 'ref' ? '#333' : GM, width: kind === 'ref' ? 1.6 : (kind === 'dashdot' ? 3 : 2.5), type: t}});
}
function mpts(ax, xs, ys, symbol, size, open, z) {
  scat(ax, xs.map(function (x, i) { return [x, ys[i]]; }), symbol, size,
    open ? {color: '#fff', borderColor: GM, borderWidth: 2.2} : {color: GM}, z || 4);
}

var axA = arrBox([1615,216,2146,646], true, false, 10);
mline(axA, refRp, 'ref');
mline(axA, pndTrend, 'dashdot');
mline(axA, pndFit, 'solid');
mpts(axA, invT, pndRp, HEX, [30, 34], false);

var axB = arrBox([1615,646,2146,1075], false, false, 1);
mline(axB, refRp, 'ref');
mline(axB, txdDot, 'dot');
mline(axB, txdDash, 'dash');
mline(axB, txdOpenFit, 'solid');
mline(axB, txdFillFit, 'solid');
mpts(axB, invT, txdOpenRp, 'diamond', [26, 29], true);
mpts(axB, txdFillT, txdFillRp, 'diamond', [22, 25], false);

var axC = arrBox([1615,1075,2146,1504], false, true, 1);
mline(axC, refRp, 'ref');
mline(axC, cadDot, 'dot');
mline(axC, cadDash, 'dash');
mline(axC, cadOpenFit, 'solid');
mline(axC, cadFillFit, 'solid');
mpts(axC, invT, cadOpenRp, 'rect', 23, true);
mpts(axC, invT, cadFillRp, 'rect', 21, false);

// ---------- long-term box ----------
(function () {
  var gi = grids.length, xi = xAxes.length, yi = yAxes.length;
  grids.push(gridAt([2588,153,3421,861]));
  var ln = {color: INK, width: 3}, tk = {color: INK, width: 2.5};
  xAxes.push({gridIndex: gi, type: 'value', position: 'bottom', min: 0, max: 500, interval: 100,
    axisLine: {onZero: false, lineStyle: ln}, axisTick: {length: 11, lineStyle: tk},
    minorTick: {show: true, splitNumber: 2, length: 7, lineStyle: tk},
    axisLabel: {fontFamily: FONT, fontSize: 54, color: INK, margin: 16},
    splitLine: {show: false}, minorSplitLine: {show: false}});
  xAxes.push({gridIndex: gi, type: 'value', position: 'top', min: 0, max: 500,
    axisLine: {onZero: false, lineStyle: ln}, axisTick: {show: false}, axisLabel: {show: false}, splitLine: {show: false}});
  yAxes.push({gridIndex: gi, type: 'value', position: 'left', min: 0, max: 0.525, interval: 0.05,
    axisLine: {onZero: false, lineStyle: ln}, axisTick: {length: 12, lineStyle: tk},
    minorTick: {show: true, splitNumber: 2, length: 7, lineStyle: tk},
    axisLabel: {fontFamily: FONT, fontSize: 52, color: INK, margin: 8,
      formatter: function (v) { return v > 0.5001 ? '' : v.toFixed(2); }},
    splitLine: {show: false}, minorSplitLine: {show: false}});
  yAxes.push({gridIndex: gi, type: 'value', position: 'right', min: 0, max: 0.525, interval: 0.05,
    axisLine: {onZero: false, lineStyle: ln}, axisTick: {length: 12, lineStyle: tk},
    minorTick: {show: true, splitNumber: 2, length: 7, lineStyle: tk},
    axisLabel: {show: false}, splitLine: {show: false}, minorSplitLine: {show: false}});
  function pairs(ys) { return timeHr.map(function (t, i) { return [t, ys[i]]; }); }
  var base = {type: 'scatter', xAxisIndex: xi, yAxisIndex: yi, animation: false};
  series.push(Object.assign({}, base, {name: 'PND, Undesiccated', data: pairs(pndLong), symbol: HEX, symbolSize: [17, 19],
    itemStyle: {color: '#fff', borderColor: GL, borderWidth: 1.6}, z: 3}));
  series.push(Object.assign({}, base, {name: 'CAD, CaCl2 Desiccated', data: pairs(cadLong), symbol: 'rect', symbolSize: 17,
    itemStyle: {color: GL}, z: 4}));
  series.push(Object.assign({}, base, {name: 'TXD, CaCl2 Desiccated', data: pairs(txdLong), symbol: 'diamond', symbolSize: [24, 24],
    itemStyle: {color: GL}, z: 5}));
})();

var legRich = {a: {fontSize: 54, fontFamily: FONT, color: INK}, s: {fontSize: 32, fontFamily: FONT, color: INK, verticalAlign: 'bottom', padding: [22, 0, 0, 0]}};
function legFmt(name) {
  return name.indexOf('CaCl2') >= 0 ? '{a|' + name.slice(0, 9) + '}{s|2}{a|' + name.slice(10) + '}' : '{a|' + name + '}';
}
function leg(name, left, top, w, h, icon) {
  return {data: [{name: name, icon: icon}], left: left, top: top, itemWidth: w, itemHeight: h, padding: 0,
    selectedMode: false, formatter: legFmt, textStyle: {fontFamily: FONT, fontSize: 54, color: INK, rich: legRich, padding: [0, 0, 0, 6]}};
}

// ================= texts and decorations =================
graphics.push({type: 'rect', shape: {x: 6, y: 0, width: 17, height: 1566}, style: {fill: '#000'}, silent: true});
graphics.push({type: 'text', x: 1046, y: -40, silent: true,
  style: {text: 'p', fontSize: 100, fontWeight: 'bold', fontFamily: FONT, fill: '#4a6cb8', align: 'center', verticalAlign: 'middle', textAlign: 'center', textVerticalAlign: 'middle'}});
graphics.push({type: 'polygon', silent: true, shape: {points: [[1232,844],[1357,844],[1357,824],[1423,851],[1357,879],[1357,858],[1232,858]]}, style: {fill: '#6b6b6b'}});
graphics.push({type: 'rect', silent: true, shape: {x: 77, y: 1104, width: 6, height: 140}, style: {fill: '#000'}});
graphics.push({type: 'polygon', silent: true, shape: {points: [[63,1234],[80,1246],[97,1234],[80,1281]]}, style: {fill: '#000'}});

// left panel
ptext('Raw Impedance Curves', 692, 54, 58, 559);
ptext('a)', 248, 98, 25);
ptext('TXD', 474, 104, 25);
ptext('b)', 737, 98, 25);
ptext('CAD', 968, 104, 25);
var ROT = Math.PI / 2;
var rowRich = {n: RS(30, {b: true}), s: RS(19, {b: true, va: 'bottom'})};
rtext([['Undesiccated', 'n']], rowRich, 184, 253, 160, ROT);
rtext([['Dry Air', 'n']], rowRich, 184, 610, 94, ROT);
rtext([['CaSO', 'n'], ['4', 's']], rowRich, 184, 947, 94, ROT);
rtext([['CaCl', 'n'], ['2', 's']], rowRich, 184, 1297, 75, ROT);
var zRich = {b: RS(25, {b: true}), i: RS(25, {b: true, i: true}), s: RS(15, {b: true, va: 'top'})};
var zTok = [['-', 'b'], ['Z', 'i'], ['" (Ωcm', 'b'], ['2', 's'], [')', 'b']];
[[214, 261], [214, 613], [214, 958], [214, 1304], [708, 260], [708, 612], [708, 959], [708, 1308]].forEach(function (c) {
  rtext(zTok, zRich, c[0], c[1], 112, ROT);
});
var zxTok = [['Z\' (Ωcm', 'b'], ['2', 's'], [')', 'b']];
rtext(zxTok, zRich, 486, 1497, 103);
rtext(zxTok, zRich, 975, 1497, 103);
var ttRich = {n: RS(38), s: RS(24, {va: 'top'})};
rtext([['Testing Temperatures: Outer= 500', 'n'], ['o', 's'], ['C, Nested = 600', 'n'], ['o', 's'], ['C, Double Nested = 700', 'n'], ['o', 's'], ['C', 'n']],
  ttRich, 667, 1549, 1173);
ptext('Increasing Desicant Strength', 80, 715, 62, 776, {b: true, rot: ROT});

// middle panel
ptext('Post-Fabrication Desiccated', 1885, 36, 58, 658);
ptext('Infiltrated Cathode Performance', 1885, 94, 58, 757);
ptext('a)', 1638, 244, 34);
ptext('PND', 1885, 244, 34);
ptext('b)', 1638, 672, 34);
ptext('TXD', 1885, 672, 34);
ptext('c)', 1638, 1098, 34);
ptext('CAD', 1889, 1098, 34);
var rpRich = {r: RS(36, {b: true, i: true}), p: RS(22, {b: true, i: true, va: 'bottom'}), b: RS(36, {b: true}), s: RS(22, {b: true, va: 'top'})};
var rpTok = [['R', 'r'], ['P', 'p'], [' (Ωcm', 'b'], ['2', 's'], [')', 'b']];
rtext(rpTok, rpRich, 1556, 394, 140, ROT);
rtext(rpTok, rpRich, 1556, 831, 140, ROT);
rtext(rpTok, rpRich, 1556, 1277, 140, ROT);
var kRich = {b: RS(34, {b: true}), s: RS(21, {b: true, va: 'top'})};
rtext([['1000/T (K', 'b'], ['-1', 's'], [')', 'b']], kRich, 1888, 1553, 168);

// right panel
ptext('Long-Term Open Circuit Desiccated', 3000, 37, 58, 856);
ptext('Infiltrated Cathode Performance', 3000, 92, 58, 756);
ptext('540°C', 2672, 191, 52, 138);
var rp2Rich = {r: RS(56, {b: true, i: true}), p: RS(36, {b: true, i: true, va: 'bottom'}), b: RS(56, {b: true}), s: RS(34, {b: true, va: 'top'})};
rtext(rpTok, rp2Rich, 2434, 494, 249, ROT);
ptext('Time (hr)', 3010, 957, 52, 222, {b: true});
var pRich = {n: RS(52), s: RS(32, {va: 'bottom'}), u: RS(32, {va: 'top'}), i: RS(52, {i: true}), ip: RS(32, {i: true, va: 'bottom'})};
rtext([['CaCl', 'n'], ['2', 's'], ['-desiccation lowered the SOFC operating', 'n']], pRich, 2943, 1155, 1111);
rtext([['temperature (i.e. where ', 'n'], ['R', 'i'], ['P', 'ip'], ['= 0.1Ωcm', 'n'], ['2', 'u'], [') from', 'n']], pRich, 2941, 1225, 1027);
rtext([['640', 'n'], ['o', 'u'], ['C to 575', 'n'], ['o', 'u'], ['C.', 'n']], pRich, 2942, 1295, 371);
rtext([['CaCl', 'n'], ['2', 's'], ['-desiccation also improved the open', 'n']], pRich, 2940, 1444, 983);
rtext([['circuit infiltrated cathode performance stability', 'n']], pRich, 2941, 1496, 1107);

var chart = echarts.init(document.getElementById('chart'), null, {renderer: 'canvas'});
chart.setOption({
  animation: false,
  backgroundColor: '#fff',
  textStyle: {fontFamily: FONT},
  grid: grids,
  xAxis: xAxes,
  yAxis: yAxes,
  legend: [
    leg('PND, Undesiccated', 2767, 215, 44, 46, HEX),
    leg('CAD, CaCl2 Desiccated', 2724, 351, 34, 34, 'rect'),
    leg('TXD, CaCl2 Desiccated', 2725, 585, 45, 45, 'diamond')
  ],
  series: series,
  graphic: {elements: graphics}
});
</script>
</body>
</html>
